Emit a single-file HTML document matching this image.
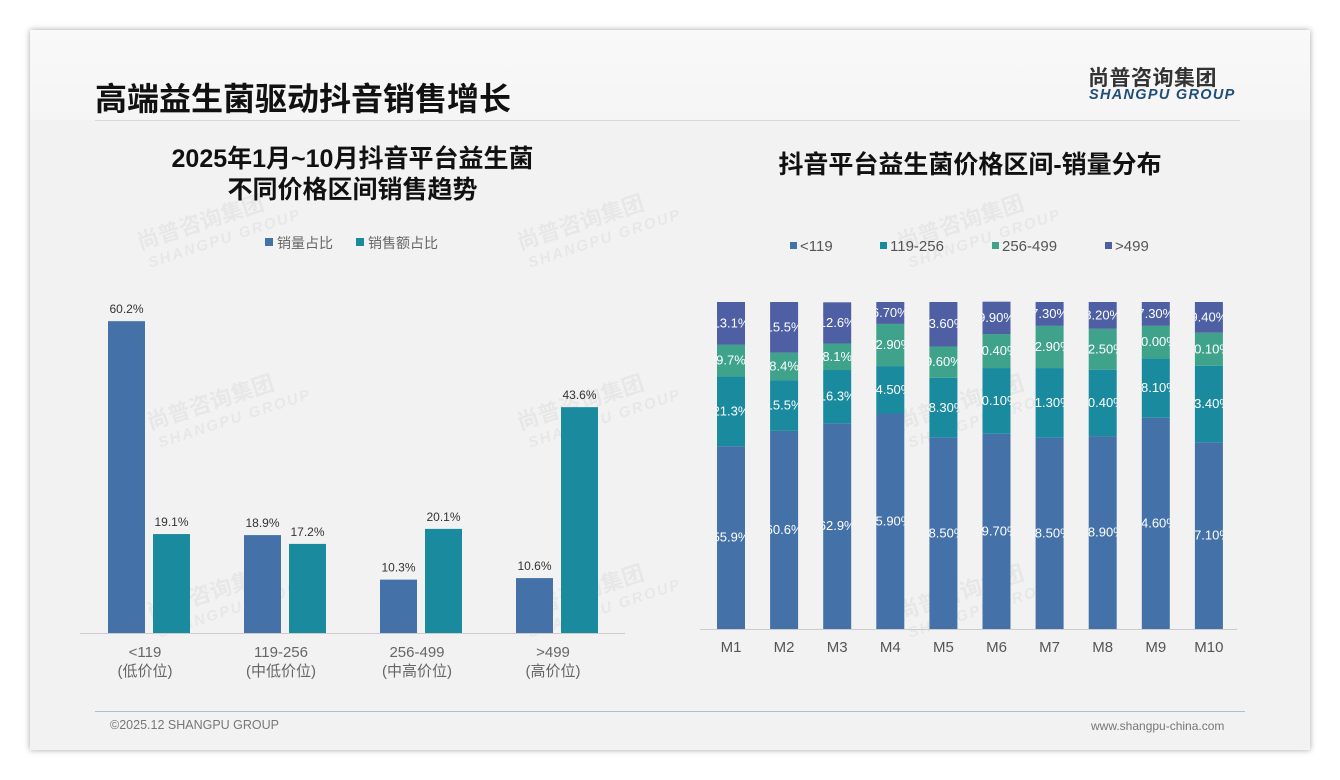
<!DOCTYPE html>
<html><head><meta charset="utf-8">
<style>
body{margin:0;width:1340px;height:780px;background:#fff;font-family:"Liberation Sans","Noto Sans CJK SC",sans-serif;overflow:hidden;position:relative}
.card{position:absolute;left:30px;top:30px;width:1280px;height:720px;background:#f2f2f2;box-shadow:0 0 6px rgba(0,0,0,.35)}
.t{position:absolute;white-space:nowrap}
</style></head><body>
<div class="card"></div>
<div style="position:absolute;left:30px;top:30px;width:1280px;height:90px;background:linear-gradient(#f9f9f9,#f5f5f5)"></div>
<div class="t" style="left:95px;top:74px;font-size:32px;font-weight:bold;color:#111">高端益生菌驱动抖音销售增长</div>
<div style="position:absolute;left:95px;top:120px;width:1145px;height:1px;background:#d8d8d8"></div>
<div class="t" style="left:1088px;top:62px;font-size:21px;font-weight:bold;color:#333;letter-spacing:0.5px">尚普咨询集团</div>
<div class="t" style="left:1089px;top:87px;font-size:14.5px;font-weight:bold;font-style:italic;color:#1f4e79;letter-spacing:1.3px">SHANGPU GROUP</div>
<div class="t" style="left:80px;width:545px;top:144px;text-align:center;font-size:25px;font-weight:bold;color:#111;line-height:31px">2025年1月~10月抖音平台益生菌<br>不同价格区间销售趋势</div>
<div class="t" style="left:700px;width:540px;top:145px;text-align:center;font-size:25px;font-weight:bold;color:#111">抖音平台益生菌价格区间-销量分布</div>
<div style="position:absolute;left:95px;top:711px;width:1150px;height:1px;background:#a9c0d8"></div>
<div class="t" style="left:110px;top:718px;font-size:12.5px;color:#777">©2025.12 SHANGPU GROUP</div>
<div class="t" style="left:1091px;top:719px;font-size:12px;color:#777">www.shangpu-china.com</div>
<svg id="svg" width="1340" height="780" style="position:absolute;left:0;top:0"></svg>
<script>
const leftCats=["<119","119-256","256-499",">499"];
const leftSubs=["(低价位)","(中低价位)","(中高价位)","(高价位)"];
const volShare=[60.2,18.9,10.3,10.6];
const amtShare=[19.1,17.2,20.1,43.6];
const months=["M1","M2","M3","M4","M5","M6","M7","M8","M9","M10"];
const s119=[55.9,60.6,62.9,65.9,58.5,59.7,58.5,58.9,64.6,57.1];
const s256=[21.3,15.5,16.3,14.5,18.3,20.1,21.3,20.4,18.1,23.4];
const s499=[9.7,8.4,8.1,12.9,9.6,10.4,12.9,12.5,10.0,10.1];
const sTop=[13.1,15.5,12.6,6.7,13.6,9.9,7.3,8.2,7.3,9.4];
const svg=document.getElementById('svg');
const NS="http://www.w3.org/2000/svg";
function mk(tag,a,p){const e=document.createElementNS(NS,tag);for(const k in a)e.setAttribute(k,a[k]);(p||svg).appendChild(e);return e;}
function txt(x,y,s,a){const e=mk('text',Object.assign({x:x,y:y,'font-family':'Liberation Sans, Noto Sans CJK SC, sans-serif'},a));e.textContent=s;return e;}
// watermarks
[[140,250],[520,250],[900,250],[150,430],[520,430],[900,430],[150,620],[520,620],[900,620]].forEach(p=>{
 const g=mk('g',{transform:`translate(${p[0]},${p[1]}) rotate(-18)`,opacity:'0.04'});
 
 const a=mk('text',{x:0,y:0,'font-size':22,'font-weight':'bold',fill:'#000','font-family':'Noto Sans CJK SC,sans-serif'},g);a.textContent='尚普咨询集团';
 const b=mk('text',{x:4,y:20,'font-size':15,'font-weight':'bold','font-style':'italic',fill:'#000','letter-spacing':'2','font-family':'Liberation Sans,sans-serif'},g);b.textContent='SHANGPU GROUP';
});
// LEFT CHART
const lBase=633,lScale=5.18;
const ly=v=>lBase-v*lScale;
const lx=i=>149+i*136;
const C1='#4472a8',C2='#1a8a9e',C3='#3fa38c',C4='#4e5fa3';
let e=mk('rect',{x:265,y:238,width:8,height:8,fill:C1});
e=txt(277,248,'销量占比',{'font-size':14,fill:'#666'});
e=mk('rect',{x:356,y:238,width:8,height:8,fill:C2});
e=txt(368,248,'销售额占比',{'font-size':14,fill:'#666'});
leftCats.forEach((c,i)=>{
 const cx=lx(i);
 let r=mk('rect',{x:cx-41,y:ly(volShare[i]),width:37,height:volShare[i]*lScale,fill:C1});
 
 let t=txt(cx-22.5,ly(volShare[i])-8,volShare[i].toFixed(1)+'%',{'font-size':12,fill:'#333','text-anchor':'middle'});
 
 r=mk('rect',{x:cx+4,y:ly(amtShare[i]),width:37,height:amtShare[i]*lScale,fill:C2});
 
 t=txt(cx+22.5,ly(amtShare[i])-8,amtShare[i].toFixed(1)+'%',{'font-size':12,fill:'#333','text-anchor':'middle'});
 
 t=txt(cx-4,657,c,{'font-size':15,fill:'#666','text-anchor':'middle'});
 
 t=txt(cx-4,676,leftSubs[i],{'font-size':15,fill:'#666','text-anchor':'middle'});
 
});
e=mk('line',{x1:80,y1:lBase+0.5,x2:625,y2:lBase+0.5,stroke:'#ccc'});
// RIGHT CHART
const rBase=629,rScale=3.27;
const rx=i=>731+i*53.1;
const series=[s119,s256,s499,sTop],scol=[C1,C2,C3,C4],snames=['<119','119-256','256-499','>499'];
const legX=[790,880,992,1105];
snames.forEach((n,k)=>{
 let r=mk('rect',{x:legX[k],y:242,width:7,height:7,fill:scol[k]});
 let t=txt(legX[k]+10,251,n,{'font-size':15,fill:'#555'});
});
const defs=mk('defs',{});
months.forEach((m,i)=>{
 const cx=rx(i);
 const cp=mk('clipPath',{id:'cp'+i},defs);mk('rect',{x:cx-14,y:0,width:28,height:780},cp);
 let acc=0;
 series.forEach((s,k)=>{
  const v=s[i];const y0=rBase-(acc+v)*rScale;
  const r=mk('rect',{x:cx-14,y:y0,width:28,height:v*rScale,fill:scol[k]});
  
  const lab=(i<3? v.toFixed(1):v.toFixed(2))+'%';
  const t=txt(cx,y0+v*rScale/2+4,lab,{'font-size':13,fill:'#fff','text-anchor':'middle','clip-path':`url(#cp${i})`});
  
  acc+=v;
 });
 const t=txt(cx,652,m,{'font-size':15,fill:'#555','text-anchor':'middle'});
 
});
e=mk('line',{x1:700,y1:rBase+0.5,x2:1237,y2:rBase+0.5,stroke:'#ccc'});
</script>
</body></html>
